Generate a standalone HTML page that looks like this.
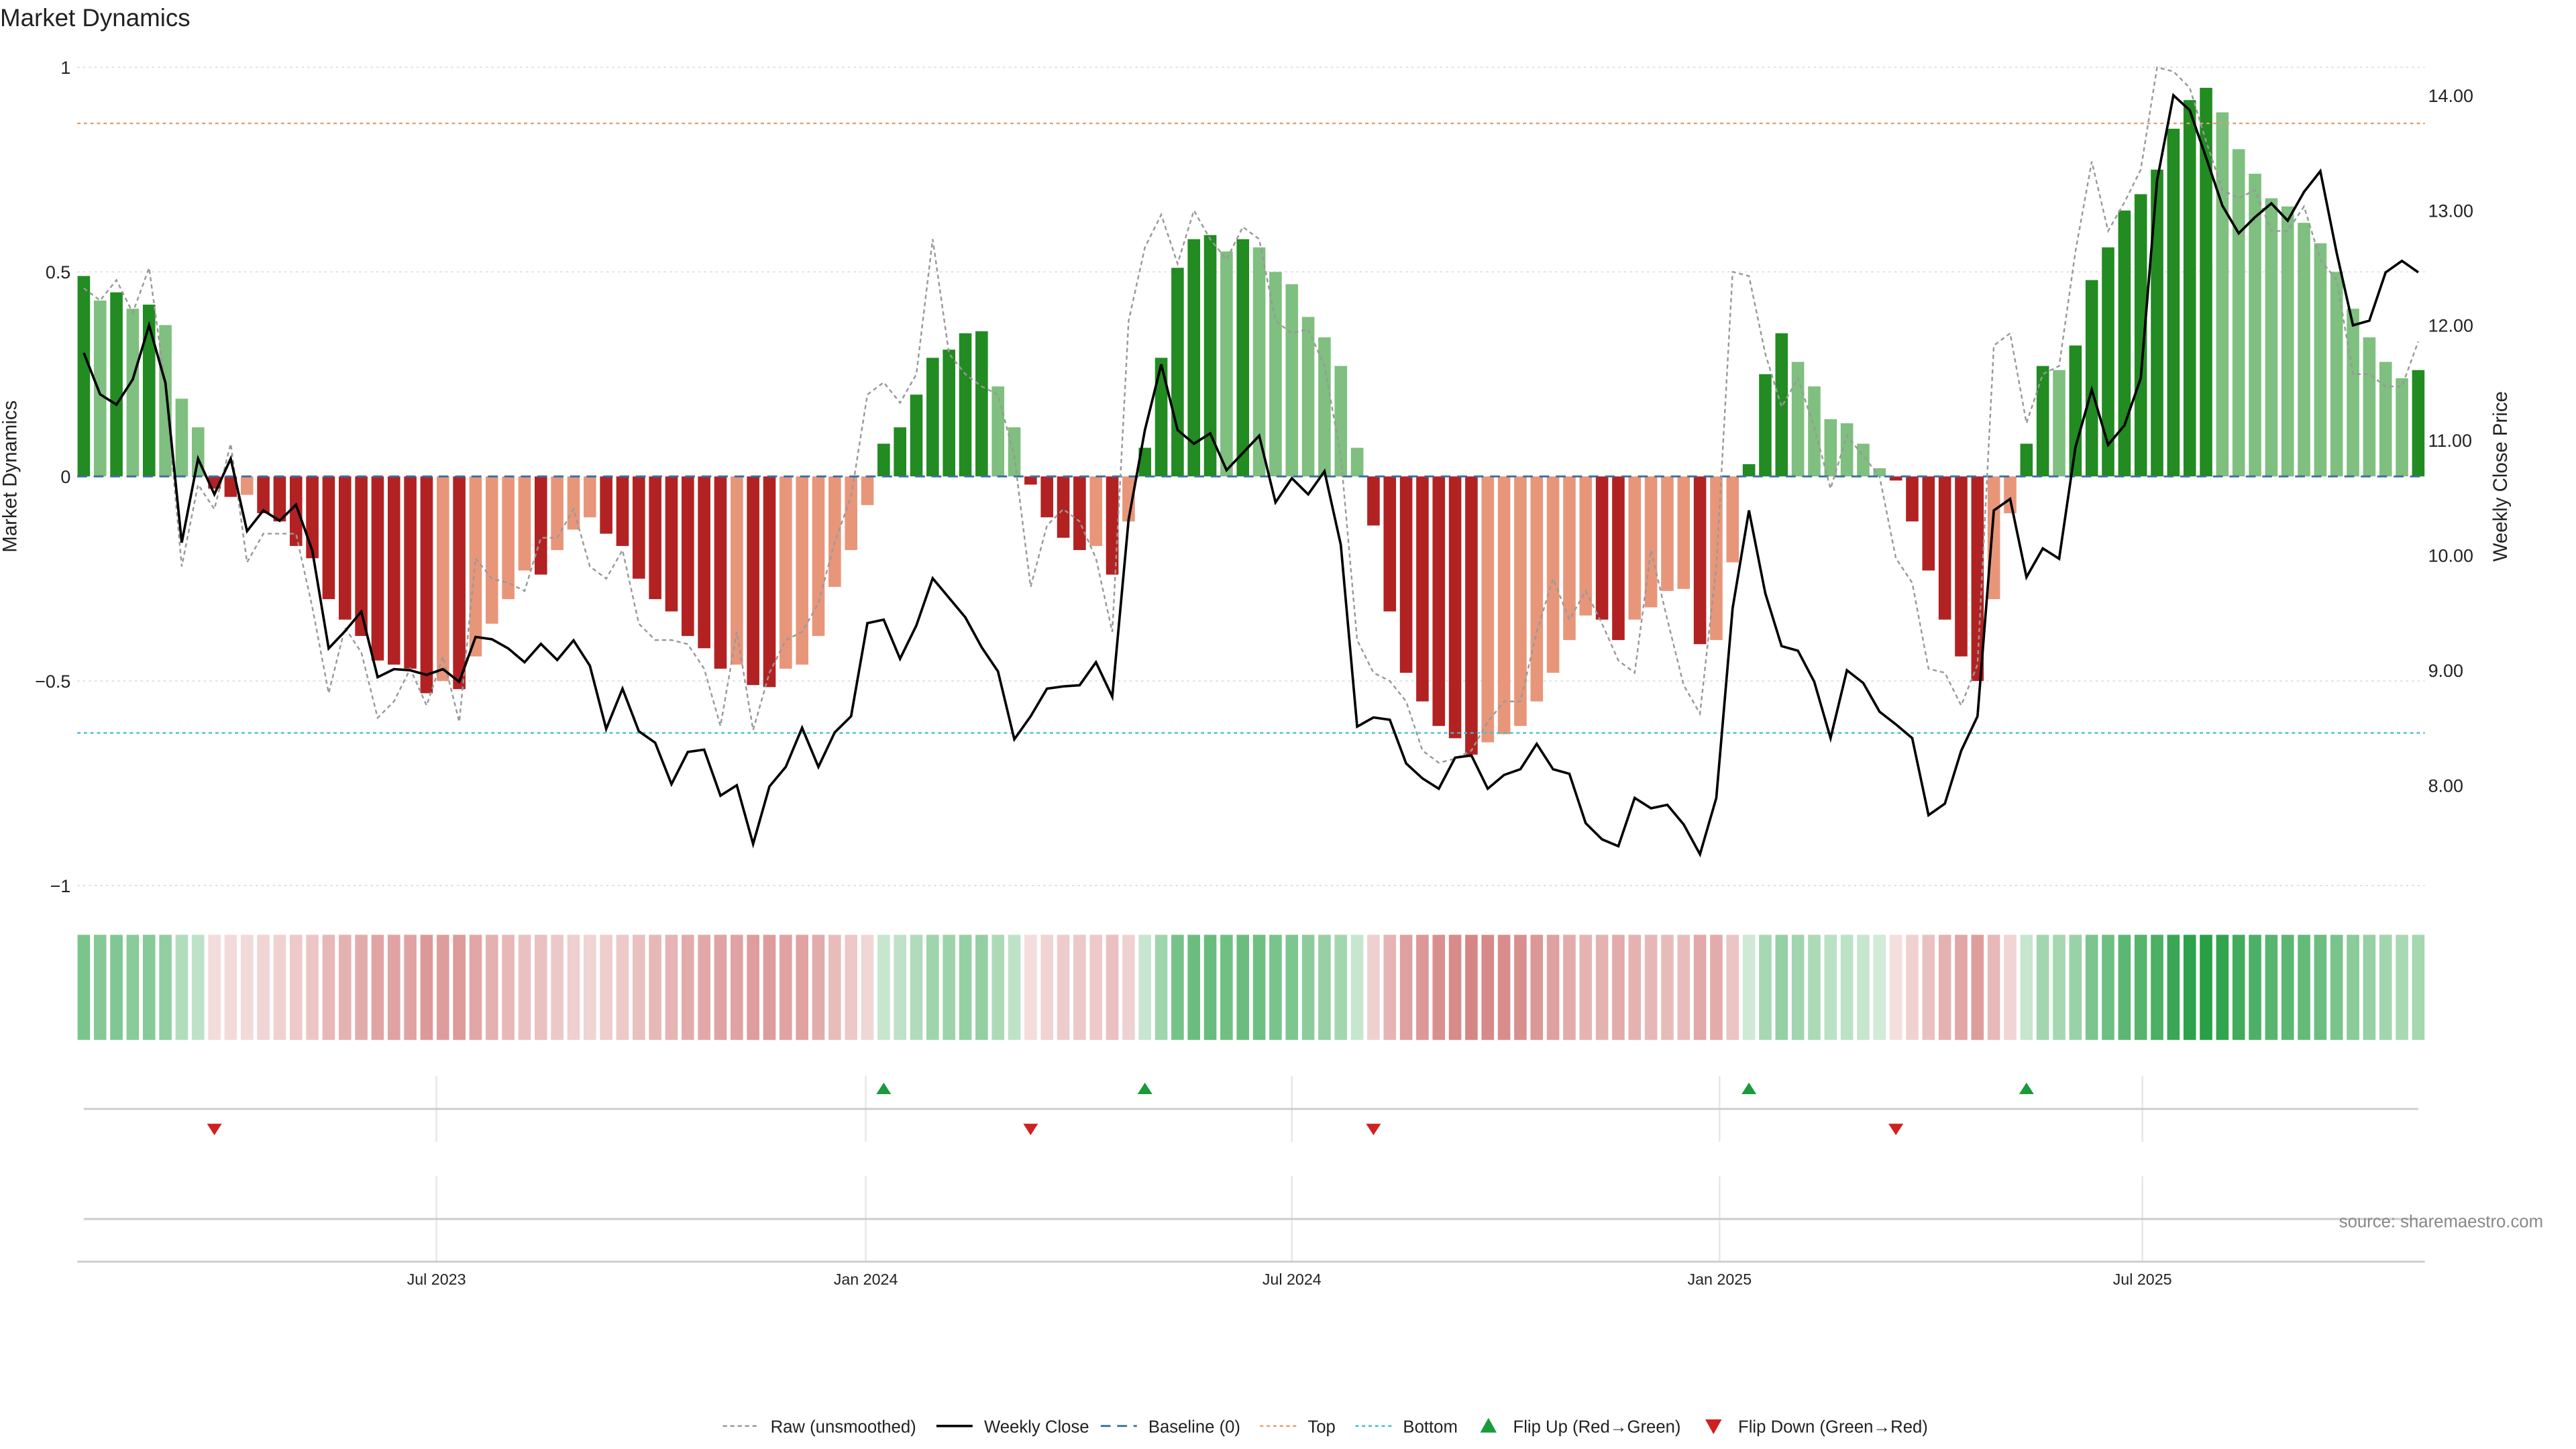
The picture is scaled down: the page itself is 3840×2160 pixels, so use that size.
<!DOCTYPE html>
<html><head><meta charset="utf-8"><style>
html,body{margin:0;padding:0;background:#fff;}
svg{display:block;font-family:"Liberation Sans","DejaVu Sans",sans-serif;}
</style></head><body>
<svg id="chart" width="3840" height="2160" viewBox="0 0 1568 882" xmlns="http://www.w3.org/2000/svg">
<text x="0" y="16" font-size="15" fill="#222">Market Dynamics</text>
<g id="grid"></g><g id="bars"></g><g id="lines"></g><g id="strip"></g><g id="flips"></g><g id="axes"></g>
<text x="1548" y="747" font-size="10.5" fill="#888" text-anchor="end">source: sharemaestro.com</text>
<text transform="translate(10,290) rotate(-90)" font-size="12" fill="#222" text-anchor="middle">Market Dynamics</text>
<text transform="translate(1526,290) rotate(-90)" font-size="12" fill="#222" text-anchor="middle">Weekly Close Price</text>
<g id="legend"></g>
</svg>
<script>
const dynamics=[0.49,0.43,0.45,0.41,0.42,0.37,0.19,0.12,-0.03,-0.05,-0.045,-0.09,-0.11,-0.17,-0.20,-0.30,-0.35,-0.39,-0.45,-0.46,-0.47,-0.53,-0.50,-0.52,-0.44,-0.36,-0.30,-0.23,-0.24,-0.18,-0.13,-0.10,-0.14,-0.17,-0.25,-0.30,-0.33,-0.39,-0.42,-0.47,-0.46,-0.51,-0.515,-0.47,-0.46,-0.39,-0.27,-0.18,-0.07,0.08,0.12,0.20,0.29,0.31,0.35,0.355,0.22,0.12,-0.02,-0.10,-0.15,-0.18,-0.17,-0.24,-0.11,0.07,0.29,0.51,0.58,0.59,0.55,0.58,0.56,0.50,0.47,0.39,0.34,0.27,0.07,-0.12,-0.33,-0.48,-0.55,-0.61,-0.64,-0.68,-0.65,-0.63,-0.61,-0.55,-0.48,-0.40,-0.34,-0.35,-0.40,-0.35,-0.32,-0.28,-0.275,-0.41,-0.40,-0.21,0.03,0.25,0.35,0.28,0.22,0.14,0.13,0.08,0.02,-0.01,-0.11,-0.23,-0.35,-0.44,-0.50,-0.30,-0.09,0.08,0.27,0.26,0.32,0.48,0.56,0.65,0.69,0.75,0.85,0.92,0.95,0.89,0.80,0.74,0.68,0.66,0.62,0.57,0.50,0.41,0.34,0.28,0.24,0.26];
const raw=[0.46,0.43,0.48,0.40,0.51,0.22,-0.22,-0.02,-0.08,0.08,-0.21,-0.14,-0.14,-0.14,-0.32,-0.53,-0.37,-0.43,-0.59,-0.55,-0.47,-0.56,-0.44,-0.60,-0.20,-0.25,-0.26,-0.28,-0.15,-0.15,-0.08,-0.22,-0.25,-0.18,-0.36,-0.40,-0.40,-0.41,-0.47,-0.61,-0.38,-0.62,-0.48,-0.40,-0.38,-0.31,-0.16,-0.05,0.20,0.23,0.18,0.25,0.58,0.30,0.25,0.22,0.20,0.05,-0.27,-0.12,-0.08,-0.11,-0.20,-0.38,0.38,0.56,0.64,0.52,0.65,0.58,0.53,0.61,0.58,0.38,0.35,0.36,0.27,0.05,-0.40,-0.48,-0.50,-0.55,-0.67,-0.70,-0.69,-0.67,-0.60,-0.55,-0.55,-0.38,-0.25,-0.35,-0.28,-0.36,-0.45,-0.48,-0.18,-0.35,-0.51,-0.58,-0.22,0.50,0.49,0.30,0.17,0.24,0.12,-0.03,0.10,0.05,0.0,-0.20,-0.26,-0.47,-0.48,-0.56,-0.46,0.32,0.35,0.13,0.25,0.27,0.55,0.77,0.60,0.67,0.75,1.0,0.99,0.95,0.82,0.70,0.68,0.70,0.60,0.60,0.66,0.53,0.48,0.25,0.25,0.22,0.22,0.33];
const closes=[11.76,11.40,11.31,11.53,12.0,11.5,10.11,10.84,10.53,10.84,10.21,10.39,10.30,10.44,10.04,9.19,9.34,9.51,8.94,9.01,9.0,8.96,9.01,8.90,9.29,9.27,9.19,9.07,9.23,9.09,9.26,9.04,8.49,8.84,8.47,8.37,8.01,8.29,8.31,7.91,8.0,7.49,7.99,8.16,8.5,8.16,8.46,8.6,9.41,9.44,9.1,9.39,9.8,9.63,9.46,9.2,8.99,8.4,8.6,8.84,8.86,8.87,9.07,8.77,10.31,11.09,11.66,11.09,10.97,11.06,10.74,10.89,11.04,10.46,10.67,10.53,10.73,10.09,8.51,8.59,8.57,8.19,8.06,7.97,8.24,8.26,7.97,8.09,8.14,8.36,8.14,8.1,7.67,7.53,7.47,7.89,7.8,7.83,7.66,7.4,7.89,9.54,10.39,9.67,9.21,9.17,8.9,8.41,9.0,8.89,8.64,8.53,8.41,7.74,7.84,8.3,8.6,10.39,10.49,9.81,10.06,9.97,10.94,11.44,10.96,11.13,11.54,13.26,14.0,13.87,13.46,13.04,12.8,12.94,13.06,12.91,13.16,13.34,12.63,12.0,12.04,12.46,12.56,12.46];
const leftTicks=[1,0.5,0,-0.5,-1];
const leftTickLabels=["1","0.5","0","\u22120.5","\u22121"];
const rightTicks=[8,9,10,11,12,13,14];
const dateTickIdx=[21.6,47.9,74.0,100.2,126.1];
const dateTickLabels=["Jul 2023","Jan 2024","Jul 2024","Jan 2025","Jul 2025"];
const topLevel=0.863, bottomLevel=-0.627;

const NS="http://www.w3.org/2000/svg";
function mk(parent,tag,attrs){const e=document.createElementNS(NS,tag);for(const k in attrs)e.setAttribute(k,attrs[k]);document.getElementById(parent).appendChild(e);return e;}
const n=dynamics.length;
const x0=51,x1=1472;
const xs=i=>x0+i*(x1-x0)/(n-1);
const yL=v=>290-v*249;
const yR=p=>58+(14-p)*70;
const bw=7.6;

leftTicks.forEach((t,k)=>{
 if(t!==0){const g=mk('grid','line',{x1:47,x2:1476,y1:yL(t),y2:yL(t),stroke:'#ddd','stroke-width':0.7,'stroke-dasharray':'1.5,2'});
 }
 const t1=mk('axes','text',{x:43,y:yL(t)+4,'font-size':11,fill:'#222','text-anchor':'end'});t1.textContent=leftTickLabels[k];
 
});
rightTicks.forEach(p=>{const t=mk('axes','text',{x:1478,y:yR(p)+4,'font-size':11,fill:'#222'});t.textContent=p.toFixed(2);
 });

dynamics.forEach((v,i)=>{
 const prev=i>0?dynamics[i-1]:0;
 const strong=Math.abs(v)>=Math.abs(prev)||Math.sign(v)!==Math.sign(prev);
 let c=v>=0?(strong?'#228b22':'#7fbf7f'):(strong?'#b22222':'#e8967a');
 const y=Math.min(yL(v),290),h=Math.abs(yL(v)-290);
 const r=mk('bars','rect',{x:xs(i)-bw/2,y:y,width:bw,height:h,fill:c});
 
});
let l=mk('lines','line',{x1:47,x2:1476,y1:yL(topLevel),y2:yL(topLevel),stroke:'#e0a070','stroke-width':1,'stroke-dasharray':'2,2'});

l=mk('lines','line',{x1:47,x2:1476,y1:yL(bottomLevel),y2:yL(bottomLevel),stroke:'#40c0d0','stroke-width':1,'stroke-dasharray':'2,2'});

l=mk('lines','line',{x1:47,x2:1476,y1:290,y2:290,stroke:'#3a6ea5','stroke-width':1.2,'stroke-dasharray':'6,4'});

l=mk('lines','polyline',{points:raw.map((v,i)=>xs(i)+','+yL(v)).join(' '),fill:'none',stroke:'#999','stroke-width':1,'stroke-dasharray':'2.5,2'});

l=mk('lines','polyline',{points:closes.map((v,i)=>xs(i)+','+yR(v)).join(' '),fill:'none',stroke:'#000','stroke-width':1.5});


dynamics.forEach((v,i)=>{
 const a=Math.min(1,0.2+Math.abs(v)*0.85);
 const c=v>=0?`rgba(40,160,70,${a})`:`rgba(190,60,60,${a*0.8})`;
 const r=mk('strip','rect',{x:xs(i)-bw/2,y:569,width:bw,height:64,fill:c});
 
});

[[655,695,675],[716,768,742]].forEach(([a,b,c])=>{
 dateTickIdx.forEach(t=>{const g=mk('flips','line',{x1:xs(t),x2:xs(t),y1:a,y2:b,stroke:'#e6e6e6','stroke-width':1});
 });
 const g=mk('flips','line',{x1:51,x2:1472,y1:c,y2:c,stroke:'#ccc','stroke-width':1.2});
 
});
for(let i=1;i<n;i++){
 const p=dynamics[i-1],v=dynamics[i];
 if(p<0&&v>0){const x=xs(i);const m=mk('flips','polygon',{points:`${x-4.5},666 ${x+4.5},666 ${x},659`,fill:'#1a9a3a'});
  }
 if(p>0&&v<0){const x=xs(i);const m=mk('flips','polygon',{points:`${x-4.5},684 ${x+4.5},684 ${x},691`,fill:'#d02020'});
  }
}
l=mk('axes','line',{x1:47,x2:1476,y1:768,y2:768,stroke:'#ccc','stroke-width':1.2});

dateTickIdx.forEach((t,k)=>{const tx=mk('axes','text',{x:xs(t),y:782,'font-size':9.5,fill:'#222','text-anchor':'middle'});tx.textContent=dateTickLabels[k];
 });

const leg=[["Raw (unsmoothed)",'raw',440],["Weekly Close",'close',570],["Baseline (0)",'base',670],["Top",'top',767],["Bottom",'bot',825],["Flip Up (Red\u2192Green)",'up',900],["Flip Down (Green\u2192Red)",'down',1037]];
leg.forEach(([t,k,x])=>{
 const y=868;let s;
 if(k==='raw')s=mk('legend','line',{x1:x,x2:x+22,y1:y,y2:y,stroke:'#999','stroke-dasharray':'2.5,2'});
 if(k==='close')s=mk('legend','line',{x1:x,x2:x+22,y1:y,y2:y,stroke:'#000','stroke-width':1.5});
 if(k==='base')s=mk('legend','line',{x1:x,x2:x+22,y1:y,y2:y,stroke:'#3a6ea5','stroke-dasharray':'6,4','stroke-width':1.2});
 if(k==='top')s=mk('legend','line',{x1:x,x2:x+22,y1:y,y2:y,stroke:'#e0a070','stroke-dasharray':'2,2'});
 if(k==='bot')s=mk('legend','line',{x1:x,x2:x+22,y1:y,y2:y,stroke:'#40c0d0','stroke-dasharray':'2,2'});
 if(k==='up')s=mk('legend','polygon',{points:`${x+1},${y+4} ${x+11},${y+4} ${x+6},${y-5}`,fill:'#1a9a3a'});
 if(k==='down')s=mk('legend','polygon',{points:`${x+1},${y-4} ${x+11},${y-4} ${x+6},${y+5}`,fill:'#d02020'});
 
 const tx=mk('legend','text',{x:(k==='up'||k==='down')?x+21:x+29,y:y+4,'font-size':10.5,fill:'#222'});tx.textContent=t;
 
});
</script>
</body></html>
